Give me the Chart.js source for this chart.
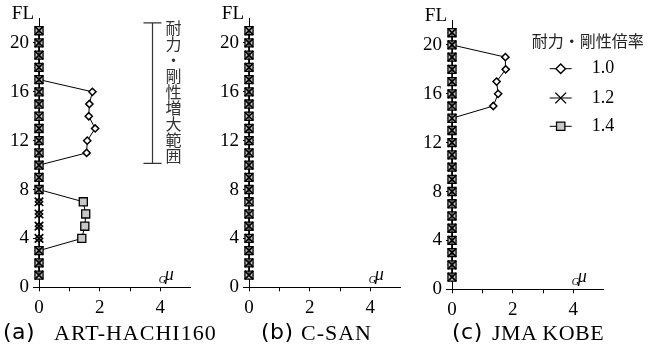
<!DOCTYPE html>
<html>
<head>
<meta charset="utf-8">
<script src="https://cdn.jsdelivr.net/npm/chart.js@4/dist/chart.umd.min.js"></script>
<style>
  html, body { margin: 0; padding: 0; background: #fff; }
  #fig { position: relative; width: 656px; height: 354px; overflow: hidden; background: #fff; }
  #fig canvas { position: absolute; }
  .tag { position: absolute; top: 321.4px; font: 22px "DejaVu Sans"; line-height: 22px; letter-spacing: 0.5px; color: #000; white-space: nowrap; }
  .cap { position: absolute; top: 321.6px; font: 22px "Liberation Serif"; line-height: 22px; color: #000; white-space: nowrap; }
  .vnote { position: absolute; left: 164.5px; top: 19.5px; writing-mode: vertical-rl; font: 16px "Noto Sans CJK JP"; line-height: 17px; color: #333; }
</style>
</head>
<body>
<div id="fig">
  <canvas id="panelA" width="205" height="320" style="left:0px;top:0px"></canvas>
  <canvas id="panelB" width="205" height="320" style="left:210px;top:0px"></canvas>
  <canvas id="panelC" width="243" height="320" style="left:413px;top:2px"></canvas>
  <div class="vnote" id="rangeNote"></div>
  <span class="tag" style="left:3px">(a)</span><span class="cap" style="left:54px;letter-spacing:1px">ART-HACHI160</span>
  <span class="tag" style="left:261px">(b)</span><span class="cap" style="left:301px;letter-spacing:1px">C-SAN</span>
  <span class="tag" style="left:452px">(c)</span><span class="cap" style="left:492px;letter-spacing:0.5px">JMA KOBE</span>
</div>
<script>
// Storey numbers (vertical axis) and axis tick setup
const floors = [1, 2, 3, 4, 5, 6, 7, 8, 9, 10, 11, 12, 13, 14, 15, 16, 17, 18, 19, 20, 21];
const yTickValues = [0, 4, 8, 12, 16, 20];
const xTickValues = [0, 1, 2, 3, 4, 5];
const xTickText = ['0', '', '2', '', '4', ''];
const yAxisName = 'FL';
const ratioLabels = ['1.0', '1.2', '1.4'];
const legendTitle = '耐力・剛性倍率';
const rangeNoteText = '耐力・剛性増大範囲';

// Cumulative plastic deformation ratio Gμ per storey, ART-HACHI160
const hachiR10 = [0, 0, 0, 0, 0, 0, 0, 0, 0, 0, 1.57, 1.59, 1.85, 1.64, 1.66, 1.76, 0, 0, 0, 0, 0];
const hachiR12 = [0, 0, 0, 0, 0, 0, 0, 0, 0, 0, 0, 0, 0, 0, 0, 0, 0, 0, 0, 0, 0];
const hachiR14 = [0, 0, 0, 1.41, 1.51, 1.54, 1.46, 0, 0, 0, 0, 0, 0, 0, 0, 0, 0, 0, 0, 0, 0];

// C-SAN
const csanR10 = [0, 0, 0, 0, 0, 0, 0, 0, 0, 0, 0, 0, 0, 0, 0, 0, 0, 0, 0, 0, 0];
const csanR12 = [0, 0, 0, 0, 0, 0, 0, 0, 0, 0, 0, 0, 0, 0, 0, 0, 0, 0, 0, 0, 0];
const csanR14 = [0, 0, 0, 0, 0, 0, 0, 0, 0, 0, 0, 0, 0, 0, 0, 0, 0, 0, 0, 0, 0];

// JMA KOBE
const kobeR10 = [0, 0, 0, 0, 0, 0, 0, 0, 0, 0, 0, 0, 0, 0, 1.36, 1.52, 1.47, 1.77, 1.76, 0, 0];
const kobeR12 = [0, 0, 0, 0, 0, 0, 0, 0, 0, 0, 0, 0, 0, 0, 0, 0, 0, 0, 0, 0, 0];
const kobeR14 = [0, 0, 0, 0, 0, 0, 0, 0, 0, 0, 0, 0, 0, 0, 0, 0, 0, 0, 0, 0, 0];

// Marker look for each strength/stiffness ratio (order: higher is drawn underneath)
const seriesStyle = [
  { pointStyle: 'rectRot', radius: 3.6, bg: '#ffffff', bw: 1.5, legendRadius: 4.8, order: 3 },
  { pointStyle: 'crossRot', radius: 6, bg: '#000000', bw: 1.7, legendRadius: 7.6, order: 1 },
  { pointStyle: 'rect', radius: 5.7, bg: '#c8c8c8', bw: 1.3, legendRadius: 5.9, order: 2 }
];

const serif = '"Liberation Serif", "Times New Roman", serif';
const cjk = '"Noto Sans CJK JP", "Noto Sans", sans-serif';
const tickFont = { family: serif, size: 19 };

document.getElementById('rangeNote').textContent = rangeNoteText;

// Extra drawings: axis names, the range bracket and the marker legend
const extrasPlugin = {
  id: 'extras',
  afterDraw(chart, args, opts) {
    const { ctx, chartArea: a, scales: { x, y } } = chart;
    ctx.save();
    ctx.fillStyle = '#000';
    // vertical axis name
    ctx.font = '19px ' + serif;
    ctx.textAlign = 'right';
    ctx.textBaseline = 'middle';
    ctx.fillText(yAxisName, a.left - 5, a.top - 4.5);
    // horizontal axis name  Gμ
    ctx.textAlign = 'left';
    ctx.textBaseline = 'alphabetic';
    const gx = x.getPixelForValue(3.95);
    ctx.font = 'italic 10px ' + serif;
    ctx.fillText('G', gx, a.bottom - 4.4);
    ctx.font = 'italic 18px ' + serif;
    ctx.fillText('μ', gx + 6, a.bottom - 7.5);

    if (opts.bracket) {
      const b = opts.bracket;
      const bx = Math.round(x.getPixelForValue(b.x)) + 0.5;
      const y0 = y.getPixelForValue(b.from);
      const y1 = y.getPixelForValue(b.to);
      ctx.strokeStyle = '#333';
      ctx.lineWidth = 1.2;
      ctx.beginPath();
      ctx.moveTo(bx, y1); ctx.lineTo(bx, y0);
      ctx.moveTo(bx - b.half, y1); ctx.lineTo(bx + b.half, y1);
      ctx.moveTo(bx - b.half, y0); ctx.lineTo(bx + b.half, y0);
      ctx.stroke();
    }

    if (opts.legend) {
      const L = opts.legend;
      ctx.font = '16px ' + cjk;
      ctx.fillStyle = '#222';
      ctx.textBaseline = 'middle';
      ctx.fillText(legendTitle, a.left + L.titleX, a.top + L.titleY);
      ratioLabels.forEach((lab, k) => {
        const st = seriesStyle[k];
        const cy = a.top + L.itemY[k];
        const mx = a.left + L.markX;
        ctx.strokeStyle = '#000';
        ctx.lineWidth = 1;
        ctx.beginPath();
        ctx.moveTo(mx - 11, cy); ctx.lineTo(mx + 11, cy);
        ctx.stroke();
        ctx.fillStyle = st.bg;
        ctx.lineWidth = Math.min(st.bw, 1.4);
        Chart.helpers.drawPoint(ctx, { pointStyle: st.pointStyle, radius: st.legendRadius, rotation: 0, borderWidth: st.bw }, mx, cy);
        ctx.fillStyle = '#000';
        ctx.font = '18px ' + serif;
        ctx.fillText(lab, a.left + L.labelX, cy);
      });
    }
    ctx.restore();
  }
};

function makePanel(canvasId, seriesValues, padRight, extras) {
  const datasets = seriesValues.map((vals, k) => {
    const st = seriesStyle[k];
    return {
      label: ratioLabels[k],
      data: floors.map((f, i) => ({ x: vals[i], y: f })),
      order: st.order,
      showLine: true,
      borderColor: '#000',
      borderWidth: 1,
      tension: 0,
      clip: false,
      pointStyle: st.pointStyle,
      pointRadius: st.radius,
      pointHoverRadius: st.radius,
      pointBackgroundColor: st.bg,
      pointBorderColor: '#000',
      pointBorderWidth: st.bw
    };
  });
  return new Chart(document.getElementById(canvasId), {
    type: 'scatter',
    data: { datasets },
    options: {
      responsive: false,
      animation: false,
      devicePixelRatio: 1,
      events: [],
      layout: { padding: { top: 18.5, right: padRight, bottom: 0, left: 0 } },
      plugins: { legend: { display: false }, tooltip: { enabled: false }, extras },
      scales: {
        x: {
          type: 'linear', min: 0, max: 5,
          afterBuildTicks: s => { s.ticks = xTickValues.map(v => ({ value: v })); },
          afterFit: s => { s.height = 32.7; },
          ticks: {
            autoSkip: false, maxRotation: 0, padding: 5, color: '#000',
            font: tickFont,
            callback: v => xTickText[xTickValues.indexOf(v)]
          },
          grid: {
            drawOnChartArea: false, drawTicks: true, tickLength: 4, tickWidth: 1,
            tickColor: c => (c.tick && c.tick.value === 5 ? 'rgba(0,0,0,0)' : '#000')
          },
          border: { display: true, color: '#000', width: 1 }
        },
        y: {
          type: 'linear', min: 0, max: 22,
          afterBuildTicks: s => { s.ticks = yTickValues.map(v => ({ value: v })); },
          afterFit: s => { s.width = 39; },
          ticks: {
            autoSkip: false, padding: 4, color: '#000',
            font: tickFont,
            callback: v => String(v)
          },
          grid: { drawOnChartArea: false, drawTicks: true, tickLength: 6, tickWidth: 1, tickColor: '#000' },
          border: { display: true, color: '#000', width: 1 }
        }
      }
    },
    plugins: [extrasPlugin]
  });
}

makePanel('panelA', [hachiR10, hachiR12, hachiR14], 14.3,
  { bracket: { x: 3.73, from: 10.15, to: 21.65, half: 9 } });
makePanel('panelB', [csanR10, csanR12, csanR14], 14.3, {});
makePanel('panelC', [kobeR10, kobeR12, kobeR14], 52.3,
  { legend: { titleX: 79.7, titleY: 20.2, markX: 108.7, labelX: 139.7, itemY: [48.2, 77.5, 105.8] } });
</script>
</body>
</html>
